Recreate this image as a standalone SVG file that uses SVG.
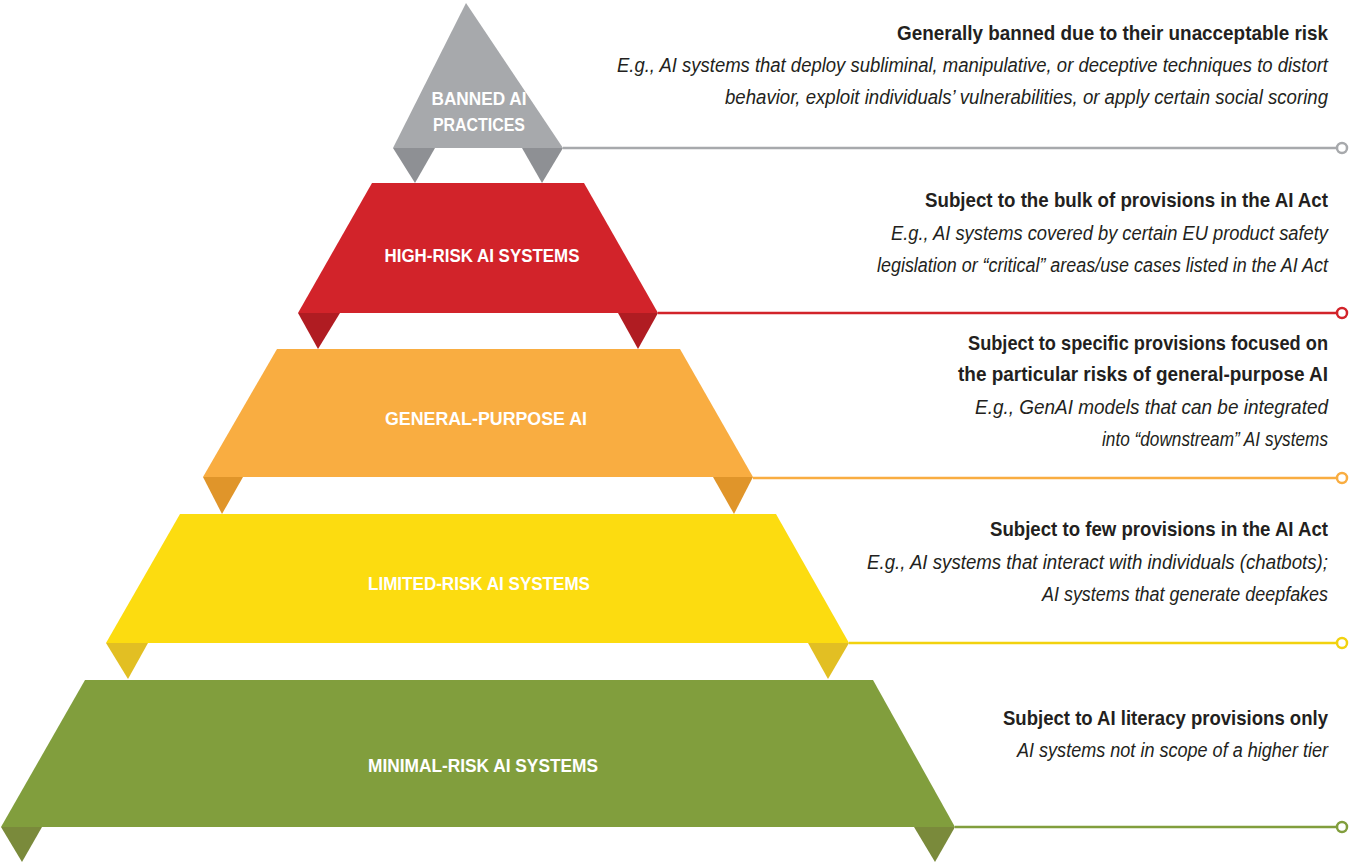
<svg xmlns="http://www.w3.org/2000/svg" width="1350" height="864" viewBox="0 0 1350 864">
<style>
.lbl{font-family:"Liberation Sans",sans-serif;font-weight:bold;fill:#fff;font-size:19px;text-anchor:middle}
.h{font-family:"Liberation Sans",sans-serif;font-weight:bold;fill:#231f20;font-size:21px;text-anchor:end}
.s{font-family:"Liberation Sans",sans-serif;font-style:italic;fill:#231f20;font-size:20px;text-anchor:end}
.ln{stroke-width:2.5;fill:none}
.dot{fill:#fff;stroke-width:2.5}
</style>
<rect width="1350" height="864" fill="#fff"/>
<g id="connectors">
<line class="ln" x1="563" y1="148" x2="1337" y2="148" stroke="#a7a9ac"/><circle class="dot" cx="1342" cy="148" r="5" stroke="#a7a9ac"/>
<line class="ln" x1="658" y1="313" x2="1337" y2="313" stroke="#d2232a"/><circle class="dot" cx="1342" cy="313" r="5" stroke="#d2232a"/>
<line class="ln" x1="753" y1="478" x2="1337" y2="478" stroke="#f9ad41"/><circle class="dot" cx="1342" cy="478" r="5" stroke="#f9ad41"/>
<line class="ln" x1="849" y1="643" x2="1337" y2="643" stroke="#f2d20f"/><circle class="dot" cx="1342" cy="643" r="5" stroke="#f2d20f"/>
<line class="ln" x1="955" y1="827" x2="1337" y2="827" stroke="#819e3d"/><circle class="dot" cx="1342" cy="827" r="5" stroke="#819e3d"/>
</g>
<g id="banned">
<polygon points="393,148 435,148 415,183" fill="#8e9094"/><polygon points="522,148 563,148 542,183" fill="#8e9094"/>
<polygon points="466,3 563,148 393,148" fill="#a7a9ac"/>
<text class="lbl" x="479" y="105" textLength="95" lengthAdjust="spacingAndGlyphs">BANNED AI</text><text class="lbl" x="479" y="131" textLength="92" lengthAdjust="spacingAndGlyphs">PRACTICES</text>
</g>
<g id="high">
<polygon points="298,313 340,313 318,349" fill="#b01c22"/><polygon points="618,313 658,313 638,349" fill="#b01c22"/>
<polygon points="372,183 584,183 658,313 298,313" fill="#d2232a"/>
<text class="lbl" x="482" y="262" textLength="195" lengthAdjust="spacingAndGlyphs">HIGH-RISK AI SYSTEMS</text>
</g>
<g id="gpai">
<polygon points="203,477 243,477 222,514" fill="#e0952a"/><polygon points="713,477 753,477 734,514" fill="#e0952a"/>
<polygon points="277,349 680,349 753,477 203,477" fill="#f9ad41"/>
<text class="lbl" x="486" y="425" textLength="202" lengthAdjust="spacingAndGlyphs">GENERAL-PURPOSE AI</text>
</g>
<g id="limited">
<polygon points="106,643 148,643 128,679" fill="#e2bf23"/><polygon points="808,643 849,643 828,679" fill="#e2bf23"/>
<polygon points="180,514 776,514 849,643 106,643" fill="#fcdc10"/>
<text class="lbl" x="479" y="590" textLength="222" lengthAdjust="spacingAndGlyphs">LIMITED-RISK AI SYSTEMS</text>
</g>
<g id="minimal">
<polygon points="1,827 42,827 22,862" fill="#7a8a3b"/><polygon points="914,827 955,827 935,862" fill="#7a8a3b"/>
<polygon points="85,680 873,680 955,827 1,827" fill="#819e3d"/>
<text class="lbl" x="483" y="772" textLength="230" lengthAdjust="spacingAndGlyphs">MINIMAL-RISK AI SYSTEMS</text>
</g>
<g id="desc">
<text class="h" x="1328" y="40" textLength="431" lengthAdjust="spacingAndGlyphs">Generally banned due to their unacceptable risk</text>
<text class="s" x="1328" y="72" textLength="711" lengthAdjust="spacingAndGlyphs">E.g., AI systems that deploy subliminal, manipulative, or deceptive techniques to distort</text>
<text class="s" x="1328" y="104" textLength="603" lengthAdjust="spacingAndGlyphs">behavior, exploit individuals’ vulnerabilities, or apply certain social scoring</text>
<text class="h" x="1328" y="207" textLength="403" lengthAdjust="spacingAndGlyphs">Subject to the bulk of provisions in the AI Act</text>
<text class="s" x="1328" y="240" textLength="437" lengthAdjust="spacingAndGlyphs">E.g., AI systems covered by certain EU product safety</text>
<text class="s" x="1328" y="272" textLength="451" lengthAdjust="spacingAndGlyphs">legislation or “critical” areas/use cases listed in the AI Act</text>
<text class="h" x="1328" y="350" textLength="360" lengthAdjust="spacingAndGlyphs">Subject to specific provisions focused on</text>
<text class="h" x="1328" y="381" textLength="370" lengthAdjust="spacingAndGlyphs">the particular risks of general-purpose AI</text>
<text class="s" x="1328" y="414" textLength="353" lengthAdjust="spacingAndGlyphs">E.g., GenAI models that can be integrated</text>
<text class="s" x="1328" y="446" textLength="226" lengthAdjust="spacingAndGlyphs">into “downstream” AI systems</text>
<text class="h" x="1328" y="536" textLength="338" lengthAdjust="spacingAndGlyphs">Subject to few provisions in the AI Act</text>
<text class="s" x="1328" y="569" textLength="461" lengthAdjust="spacingAndGlyphs">E.g., AI systems that interact with individuals (chatbots);</text>
<text class="s" x="1328" y="601" textLength="286" lengthAdjust="spacingAndGlyphs">AI systems that generate deepfakes</text>
<text class="h" x="1328" y="725" textLength="325" lengthAdjust="spacingAndGlyphs">Subject to AI literacy provisions only</text>
<text class="s" x="1328" y="757" textLength="311" lengthAdjust="spacingAndGlyphs">AI systems not in scope of a higher tier</text>
</g>
</svg>
